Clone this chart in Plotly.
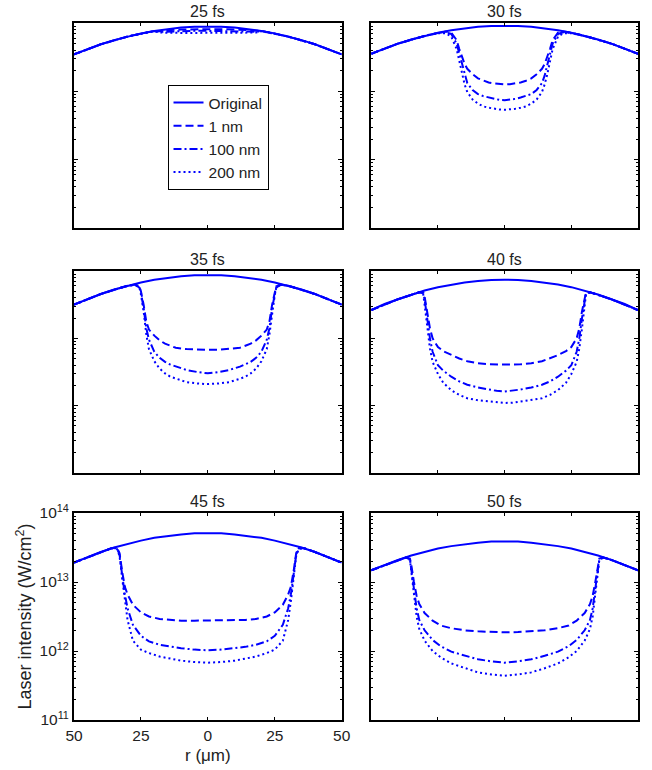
import plotly.graph_objects as go

# ---------------- data (radial profiles, r >= 0, values are log10 of intensity in W/cm^2) ----
PANELS = ["25 fs", "30 fs", "35 fs", "40 fs", "45 fs", "50 fs"]
SERIES = ["Original", "1 nm", "100 nm", "200 nm"]

R_ORIG = [0, 5, 10, 15, 20, 25, 30, 35, 40, 45, 50]
ORIG_25 = [13.95, 13.946, 13.934, 13.913, 13.884, 13.848, 13.802, 13.749, 13.688, 13.618, 13.54]
ORIG_30 = [13.96, 13.956, 13.944, 13.923, 13.894, 13.858, 13.812, 13.759, 13.698, 13.628, 13.55]
ORIG_35 = [13.94, 13.936, 13.922, 13.90, 13.87, 13.83, 13.782, 13.724, 13.658, 13.584, 13.50]
ORIG_40 = [13.87, 13.866, 13.85, 13.83, 13.80, 13.76, 13.71, 13.65, 13.58, 13.51, 13.42]
ORIG_45 = [13.71, 13.706, 13.69, 13.67, 13.64, 13.60, 13.555, 13.50, 13.435, 13.36, 13.28]
ORIG_50 = [13.59, 13.586, 13.57, 13.55, 13.52, 13.485, 13.44, 13.385, 13.32, 13.25, 13.17]

R_DIP_25 = [0, 5, 10, 15, 18, 20, 30, 40, 50]
D25_1 = [13.91, 13.91, 13.905, 13.895, 13.88, 13.884, 13.802, 13.688, 13.54]
D25_100 = [13.885, 13.885, 13.88, 13.875, 13.87, 13.884, 13.802, 13.688, 13.54]
D25_200 = [13.855, 13.855, 13.855, 13.855, 13.86, 13.88, 13.802, 13.688, 13.54]

R_DIP_30 = [0, 2, 4, 6, 8, 10, 12, 14, 15, 16, 17, 18, 20, 22, 25, 30, 40, 50]
D30_1 = [13.10, 13.105, 13.115, 13.13, 13.155, 13.19, 13.25, 13.33, 13.40, 13.50, 13.62, 13.75, 13.86, 13.875, 13.858, 13.812, 13.698, 13.55]
D30_100 = [12.87, 12.875, 12.89, 12.91, 12.93, 12.96, 13.02, 13.12, 13.23, 13.38, 13.55, 13.70, 13.84, 13.865, 13.855, 13.812, 13.698, 13.55]
D30_200 = [12.73, 12.735, 12.745, 12.76, 12.78, 12.82, 12.88, 12.99, 13.10, 13.25, 13.45, 13.62, 13.80, 13.85, 13.85, 13.812, 13.698, 13.55]

R_DIP_35 = [0, 4, 8, 12, 14, 16, 18, 20, 22, 23, 24, 25, 25.5, 27, 30, 40, 50]
D35_1 = [12.83, 12.83, 12.84, 12.86, 12.89, 12.92, 12.97, 13.04, 13.13, 13.25, 13.50, 13.70, 13.77, 13.80, 13.782, 13.658, 13.50]
D35_100 = [12.48, 12.50, 12.53, 12.58, 12.61, 12.65, 12.71, 12.80, 12.98, 13.15, 13.45, 13.68, 13.75, 13.795, 13.782, 13.658, 13.50]
D35_200 = [12.32, 12.33, 12.35, 12.40, 12.43, 12.48, 12.55, 12.66, 12.84, 13.06, 13.40, 13.65, 13.74, 13.79, 13.782, 13.658, 13.50]

R_DIP_40 = [0, 3, 6, 10, 14, 17, 20, 23, 25, 27, 28, 29, 30, 30.5, 32, 40, 50]
D40_1 = [12.61, 12.61, 12.615, 12.63, 12.66, 12.70, 12.75, 12.81, 12.87, 13.00, 13.15, 13.40, 13.62, 13.68, 13.685, 13.58, 13.42]
D40_100 = [12.21, 12.22, 12.24, 12.27, 12.31, 12.36, 12.43, 12.52, 12.60, 12.80, 13.00, 13.30, 13.58, 13.67, 13.685, 13.58, 13.42]
D40_200 = [12.04, 12.045, 12.06, 12.08, 12.11, 12.16, 12.23, 12.34, 12.47, 12.65, 12.85, 13.15, 13.50, 13.65, 13.685, 13.58, 13.42]

R_DIP_45 = [0, 5, 10, 14, 18, 22, 25, 28, 30, 31, 32, 33, 34, 36, 40, 50]
D45_1 = [12.44, 12.44, 12.44, 12.45, 12.465, 12.50, 12.56, 12.67, 12.82, 12.93, 13.15, 13.42, 13.50, 13.49, 13.435, 13.28]
D45_100 = [12.01, 12.02, 12.04, 12.06, 12.09, 12.14, 12.22, 12.38, 12.62, 12.82, 13.10, 13.40, 13.49, 13.49, 13.435, 13.28]
D45_200 = [11.83, 11.84, 11.86, 11.89, 11.92, 11.97, 12.02, 12.15, 12.45, 12.72, 13.05, 13.38, 13.48, 13.49, 13.435, 13.28]

R_DIP_50 = [0, 5, 10, 15, 20, 24, 27, 30, 32, 33, 34, 35, 35.5, 37, 40, 50]
D50_1 = [12.27, 12.275, 12.285, 12.30, 12.33, 12.37, 12.44, 12.55, 12.68, 12.80, 13.00, 13.25, 13.34, 13.355, 13.32, 13.17]
D50_100 = [11.83, 11.85, 11.88, 11.93, 11.99, 12.07, 12.16, 12.30, 12.45, 12.62, 12.90, 13.20, 13.33, 13.355, 13.32, 13.17]
D50_200 = [11.64, 11.66, 11.69, 11.75, 11.82, 11.91, 12.00, 12.15, 12.32, 12.50, 12.80, 13.15, 13.32, 13.355, 13.32, 13.17]

X_TICKS = [-50, -25, 0, 25, 50]
X_TICK_TEXT = ["50", "25", "0", "25", "50"]
Y_TICKS = [1e11, 1e12, 1e13, 1e14]
Y_TICK_TEXT = ["10<sup>11</sup>", "10<sup>12</sup>", "10<sup>13</sup>", "10<sup>14</sup>"]

PANEL_DATA = [
    (R_ORIG, ORIG_25, R_DIP_25, D25_1, D25_100, D25_200),
    (R_ORIG, ORIG_30, R_DIP_30, D30_1, D30_100, D30_200),
    (R_ORIG, ORIG_35, R_DIP_35, D35_1, D35_100, D35_200),
    (R_ORIG, ORIG_40, R_DIP_40, D40_1, D40_100, D40_200),
    (R_ORIG, ORIG_45, R_DIP_45, D45_1, D45_100, D45_200),
    (R_ORIG, ORIG_50, R_DIP_50, D50_1, D50_100, D50_200),
]

# ---------------- styling ----------------
FONT = "Liberation Sans, Arial, sans-serif"
TEXT = "#222222"
BLUE = "#0000ff"
DASHES = ["solid", "8px,4px", "8px,3px,2px,3px", "2px,3px"]
LW = 2

W, H = 652, 770
ML, MR, MT, MB = 74, 5, 23, 50
PW, PH = W - ML - MR, H - MT - MB


def xdom(x0, x1):
    return [(x0 - ML) / PW, (x1 - ML) / PW]


def ydom(y_top, y_bot):
    return [(H - MB - y_bot) / PH, (H - MB - y_top) / PH]


COLS = [xdom(74, 346), xdom(376, 647)]
ROWS = [ydom(23, 228), ydom(271, 473), ydom(513, 720)]


def mirror(r, v):
    xs = [-a for a in reversed(r)] + list(r[1:])
    ys = [10 ** b for b in reversed(v)] + [10 ** b for b in v[1:]]
    return xs, ys


fig = go.Figure()
layout = {}
annotations = []

for i, (r_o, v_o, r_d, v1, v100, v200) in enumerate(PANEL_DATA):
    k = i + 1
    sfx = "" if k == 1 else str(k)
    row, col = divmod(i, 2)
    curves = [(r_o, v_o), (r_d, v1), (r_d, v100), (r_d, v200)]
    for j, (rr, vv) in enumerate(curves):
        xs, ys = mirror(rr, vv)
        fig.add_trace(go.Scatter(
            x=xs, y=ys, mode="lines", name=SERIES[j],
            line=dict(color=BLUE, width=LW, dash=DASHES[j]),
            showlegend=(k == 1), legendrank=j + 1,
            xaxis="x" + sfx, yaxis="y" + sfx, hoverinfo="skip",
        ))

    show_labels = (k == 5)
    layout["xaxis" + sfx] = dict(
        domain=COLS[col], anchor="y" + sfx, range=[-50, 50],
        showline=True, linecolor="black", linewidth=2, mirror="ticks",
        ticks="inside", ticklen=3, tickwidth=1, tickcolor="black",
        tickvals=X_TICKS, ticktext=X_TICK_TEXT, showticklabels=show_labels,
        showgrid=False, zeroline=False,
        tickfont=dict(family=FONT, size=15.5, color=TEXT),
        title=dict(text="r (\u03bcm)" if show_labels else "", standoff=7,
                   font=dict(family=FONT, size=17, color=TEXT)),
    )
    layout["yaxis" + sfx] = dict(
        domain=ROWS[row], anchor="x" + sfx, type="log", range=[11, 14],
        showline=True, linecolor="black", linewidth=2, mirror="ticks",
        ticks="inside", ticklen=4, tickwidth=1, tickcolor="black",
        tickvals=Y_TICKS, ticktext=Y_TICK_TEXT, showticklabels=show_labels,
        showgrid=False, zeroline=False,
        minor=dict(ticks="inside", ticklen=2, tickwidth=1, tickcolor="black",
                   tickvals=[m * 10 ** e for e in (11, 12, 13) for m in range(2, 10)],
                   showgrid=False),
        tickfont=dict(family=FONT, size=15.5, color=TEXT),
        title=dict(text="Laser intensity (W/cm<sup>2</sup>)" if show_labels else "",
                   standoff=3, font=dict(family=FONT, size=18, color=TEXT)),
    )
    annotations.append(dict(
        text=PANELS[i], x=0.5, y=1, xref="x" + sfx + " domain", yref="y" + sfx + " domain",
        xanchor="center", yanchor="bottom", yshift=1, showarrow=False,
        font=dict(family=FONT, size=16, color=TEXT),
    ))

fig.update_layout(
    width=W, height=H,
    margin=dict(l=ML, r=MR, t=MT, b=MB, pad=0),
    paper_bgcolor="white", plot_bgcolor="white",
    font=dict(family=FONT, size=15, color=TEXT),
    annotations=annotations,
    showlegend=True,
    legend=dict(
        x=(169 - ML) / PW, y=(H - MB - 85) / PH, xanchor="left", yanchor="top",
        bgcolor="white", bordercolor="black", borderwidth=1,
        font=dict(family=FONT, size=15.5, color=TEXT), tracegroupgap=0,
    ),
    **layout,
)

fig.write_html("out.html")
